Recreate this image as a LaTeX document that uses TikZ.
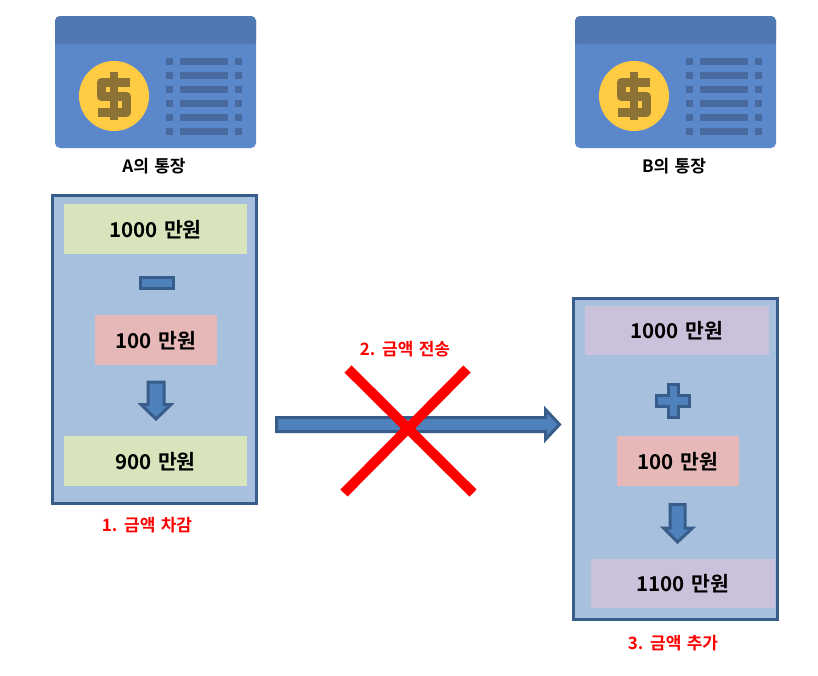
\documentclass[tikz,border=0pt]{standalone}
\usepackage{fontspec}
\setmainfont{Noto Sans CJK KR}[BoldFont={Noto Sans CJK KR Bold},WordSpace=1.4]
\definecolor{iconbody}{HTML}{5B87CB}
\definecolor{iconhead}{HTML}{5079B4}
\definecolor{iconrow}{HTML}{486A9F}
\definecolor{coin}{HTML}{FFCC44}
\definecolor{coindark}{HTML}{8C7335}
\definecolor{panelfill}{HTML}{A7C0DE}
\definecolor{edge}{HTML}{385D8A}
\definecolor{shapefill}{HTML}{4F81BD}
\definecolor{greenbox}{HTML}{D8E4BC}
\definecolor{redbox}{HTML}{E6B9B8}
\definecolor{purplebox}{HTML}{CCC1DA}
\newcommand{\lowertext}[1]{\raisebox{-0.4em}[0pt][0pt]{#1}}
\tikzset{
  panel/.style={draw=edge,fill=panelfill,line width=3pt,minimum width=204.5pt,inner sep=0pt},
  amount/.style={inner sep=0pt,minimum height=50pt,font=\fontsize{20.5}{24}\selectfont\bfseries,text=black},
  caption/.style={inner sep=0pt,font=\fontsize{17}{20}\selectfont\bfseries,text=black},
  redcaption/.style={inner sep=0pt,font=\fontsize{17}{20}\selectfont\bfseries,text=red},
  glyph/.style={draw=edge,fill=shapefill,line width=3pt,miter limit=10},
  cross/.style={draw=red,line width=10pt},
}
\begin{document}
\begin{tikzpicture}[x=1pt,y=-1pt]
\useasboundingbox (0,0) rectangle (818,675);
% passbook icons
\foreach \dx in {0,520}{
\begin{scope}[shift={(\dx,0)}]
  \fill[iconbody,rounded corners=5pt] (55,16) rectangle (256,148);
  \fill[iconhead,rounded corners=5pt] (55,44) -- (55,16) -- (256,16) -- (256,44) -- cycle;
  \fill[iconhead] (55,30) rectangle (256,44);
  \fill[coin] (114,96) circle (35);
  \draw[coindark,line width=9pt,line join=round] (130,82) -- (101.5,82) -- (101.5,96.5) -- (126.5,96.5) -- (126.5,112) -- (98,112);
  \draw[coindark,line width=8pt] (114,72) -- (114,120);
  \foreach \ry in {58,72,86,100,114,128}{
    \fill[iconrow] (166,\ry) rectangle (173,\ry+7);
    \fill[iconrow] (180,\ry) rectangle (228,\ry+7);
    \fill[iconrow] (235,\ry) rectangle (242,\ry+7);
  }
\end{scope}}
\node[caption] (capA) at (154,166) {\lowertext{A의 통장}};
\node[caption] (capB) at (674,166) {\lowertext{B의 통장}};
% left panel
\node[panel,minimum height=308pt] (left) at (154.5,349) {};
\node[amount,fill=greenbox,minimum width=183pt] (a1) at (155.5,229) {\lowertext{1000 만원}};
\draw[glyph] (140.5,277.5) rectangle (173.5,288.5);
\node[amount,fill=redbox,minimum width=122pt] (a2) at (156,340) {\lowertext{100 만원}};
\draw[glyph] (148,382) -- (164,382) -- (164,404.5) -- (171,404.5) -- (156,419) -- (141,404.5) -- (148,404.5) -- cycle;
\node[amount,fill=greenbox,minimum width=183pt] (a3) at (155.5,461) {\lowertext{900 만원}};
\node[redcaption] (cap1) at (147,525) {\lowertext{1. 금액 차감}};
% middle
\draw[glyph] (276.5,417.5) -- (545.5,417.5) -- (545.5,409.5) -- (559.5,424.5) -- (545.5,439.5) -- (545.5,431.5) -- (276.5,431.5) -- cycle;
\node[redcaption] (cap2) at (405,349) {\lowertext{2. 금액 전송}};
\draw[cross] (348,369) -- (473,493);
\draw[cross] (467,369) -- (344,493);
% right panel
\node[panel,minimum height=321pt] (right) at (675.5,458.5) {};
\node[amount,fill=purplebox,minimum width=184pt,minimum height=49pt] (b1) at (677,330.5) {\lowertext{1000 만원}};
\draw[glyph] (668,384.5) -- (678,384.5) -- (678,395) -- (689.5,395) -- (689.5,406) -- (678,406) -- (678,417.5) -- (668,417.5) -- (668,406) -- (656.5,406) -- (656.5,395) -- (668,395) -- cycle;
\node[amount,fill=redbox,minimum width=122pt] (b2) at (678,461) {\lowertext{100 만원}};
\draw[glyph] (670,504.5) -- (685,504.5) -- (685,528) -- (692.5,528) -- (677.5,542) -- (663.5,528) -- (670,528) -- cycle;
\node[amount,fill=purplebox,minimum width=184pt,minimum height=49pt] (b3) at (683,583.5) {\lowertext{1100 만원}};
\node[redcaption] (cap3) at (673,643) {\lowertext{3. 금액 추가}};
\end{tikzpicture}
\end{document}
